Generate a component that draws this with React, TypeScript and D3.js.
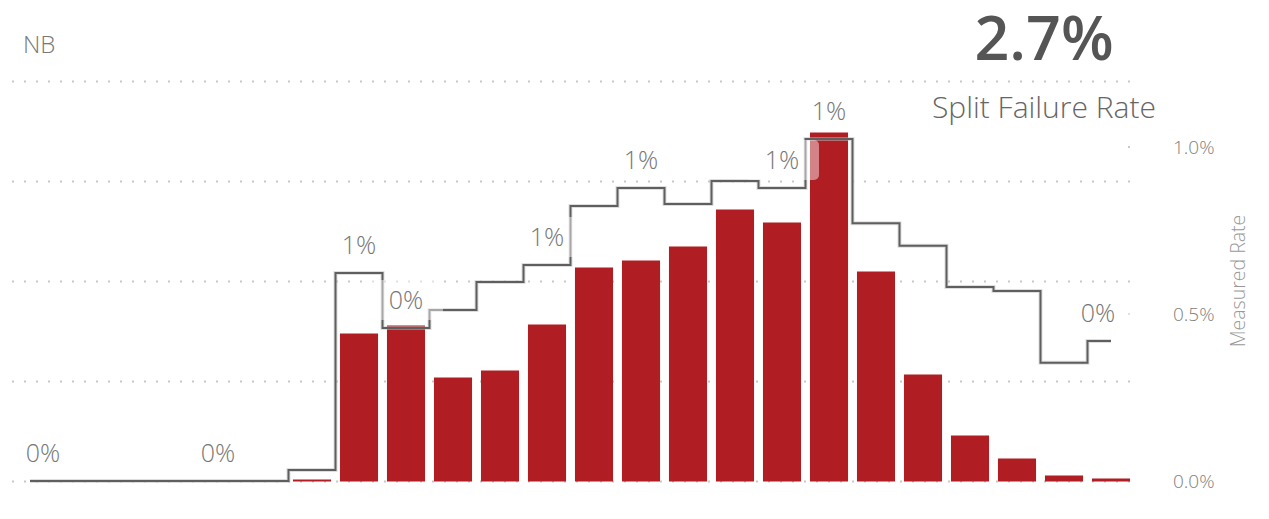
import React from "react";
import * as d3 from "d3";

const categories: number[] = d3.range(24);
const counts: number[] = [0, 0, 0, 0, 0, 0, 2, 148, 156, 104, 111, 157, 214, 221, 235, 272, 259, 349, 210, 107, 46, 23, 6, 3];
const rates: number[] = [0, 0, 0, 0, 0, 0, 0.00033, 0.00623, 0.00458, 0.00512, 0.00596, 0.00647, 0.00823, 0.00877, 0.00829, 0.00898, 0.00877, 0.01024, 0.00772, 0.00704, 0.00581, 0.00569, 0.00354, 0.00419];
const labelledIndices: number[] = [0, 4, 7, 8, 11, 13, 16, 17, 23];
const leftTicks: number[] = [0, 100, 200, 300, 400];
const rightTicks: number[] = [0, 0.005, 0.01];
const kpiValue = "2.7%";
const kpiLabel = "Split Failure Rate";
const chartTitle = "NB";
const rightAxisTitle = "Measured Rate";

const W = 1269;
const H = 519;
const FONT = "'Open Sans', Lato, sans-serif";

export default function App() {
  const x = d3.scaleBand<number>().domain(categories).range([6.5, 1134.5]).paddingInner(0.19).paddingOuter(0.095);
  const yL = d3.scaleLinear().domain([0, 400]).range([481.5, 81.5]);
  const yR = d3.scaleLinear().domain([0, 0.01]).range([481, 147]);
  const cx = (i: number) => (x(i) as number) + x.bandwidth() / 2;
  const line = d3.line<number>().x((d, i) => cx(i)).y((d) => yR(d)).curve(d3.curveStep);
  const path = line(rates) || "";
  const fmt = d3.format(".0%");
  const axFmt = d3.format(".1%");

  return (
    <svg width={W} height={H} style={{ position: "absolute", left: 0, top: 0, background: "#fff" }}>
      {leftTicks.map((t) => (
        <line key={"g" + t} x1={12} x2={1132} y1={yL(t)} y2={yL(t)} stroke="#c8c8c8" strokeWidth={2} strokeDasharray="2 10" />
      ))}
      {rightTicks.map((t) => (
        <rect key={"rt" + t} x={1128} y={yR(t) - 1} width={2} height={2} fill="#c8c8c8" />
      ))}
      {counts.map((c, i) => (
        <rect key={"b" + i} x={x(i)} y={yL(c)} width={x.bandwidth()} height={yL(0) - yL(c)} fill="#B01E24" />
      ))}
      <path d={path} fill="none" stroke="#bdbdbd" strokeOpacity={0.5} strokeWidth={4} />
      <path d={path} fill="none" stroke="#5f5f5f" strokeWidth={2} />
      {labelledIndices.map((i) => {
        const lx = Math.max(43, Math.min(1098, cx(i)));
        const ly = yR(rates[i]) - 28;
        return (
          <g key={"l" + i}>
            <rect x={lx - 37} y={ly - 20} width={74} height={40} rx={5} fill="#fff" fillOpacity={0.45} />
            <text x={lx} y={ly} dy="0.36em" textAnchor="middle" fontFamily={FONT} fontWeight={300} fontSize={25} fill="#777">
              {fmt(rates[i])}
            </text>
          </g>
        );
      })}
      {rightTicks.map((t) => (
        <text key={"ra" + t} x={1173} y={yR(t)} dy="0.36em" fontFamily={FONT} fontWeight={300} fontSize={19} fill="#808080">
          {axFmt(t)}
        </text>
      ))}
      <text transform={`translate(1245,281) rotate(-90)`} textAnchor="middle" fontFamily={FONT} fontWeight={300} fontSize={19.5} fill="#999">
        {rightAxisTitle}
      </text>
      <text x={23} y={53} fontFamily={FONT} fontWeight={300} fontSize={24} fill="#777">
        {chartTitle}
      </text>
      <text x={1044} y={60} textAnchor="middle" fontFamily={FONT} fontWeight={600} fontSize={61} fill="#555">
        {kpiValue}
      </text>
      <text x={1044} y={118} textAnchor="middle" fontFamily={FONT} fontWeight={300} fontSize={30} fill="#666">
        {kpiLabel}
      </text>
    </svg>
  );
}
